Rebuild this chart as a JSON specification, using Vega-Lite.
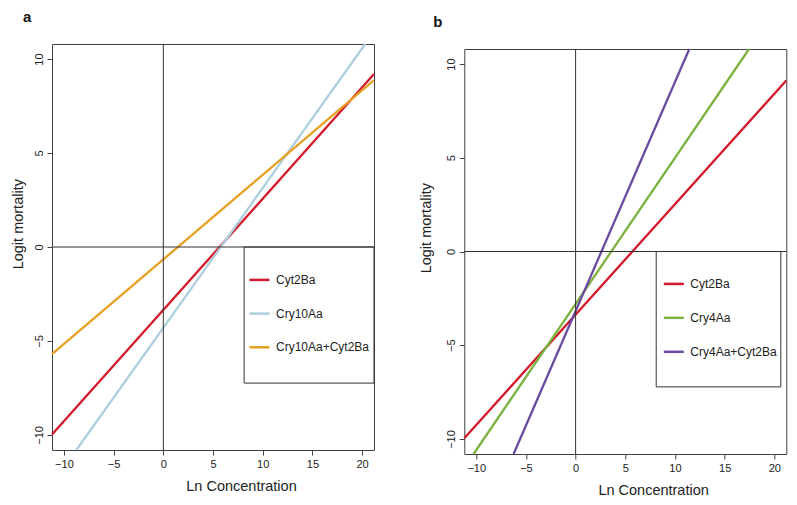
{
  "$schema": "https://vega.github.io/schema/vega-lite/v6.json",
  "background": "white",
  "padding": {"left": 10, "top": 10, "right": 0, "bottom": 0},
  "bounds": "flush",
  "spacing": 90.3,
  "datasets": {
    "a": [
      {"series": "Cyt2Ba", "x": -11.2, "y": -9.98},
      {"series": "Cyt2Ba", "x": 21.2, "y": 9.2},
      {"series": "Cry10Aa", "x": -8.75, "y": -10.8},
      {"series": "Cry10Aa", "x": 20.32, "y": 10.8},
      {"series": "Cry10Aa+Cyt2Ba", "x": -11.2, "y": -5.7},
      {"series": "Cry10Aa+Cyt2Ba", "x": 21.2, "y": 8.88}
    ],
    "b": [
      {"series": "Cyt2Ba", "x": -11.2, "y": -9.96},
      {"series": "Cyt2Ba", "x": 21.2, "y": 9.12},
      {"series": "Cry4Aa", "x": -10.27, "y": -10.8},
      {"series": "Cry4Aa", "x": 17.45, "y": 10.8},
      {"series": "Cry4Aa+Cyt2Ba", "x": -6.24, "y": -10.8},
      {"series": "Cry4Aa+Cyt2Ba", "x": 11.44, "y": 10.8}
    ]
  },
  "hconcat": [
    {
      "width": 322,
      "height": 406,
      "title": {"text": "a", "anchor": "start", "frame": "group", "dx": -29, "offset": 14},
      "resolve": {"axis": {"x": "independent", "y": "independent"}},
      "layer": [
        {
          "data": {"name": "a"},
          "mark": {"type": "line", "strokeWidth": 2.3},
          "encoding": {
            "x": {"field": "x", "type": "quantitative",
              "scale": {"domain": [-11.2, 21.2], "nice": false, "zero": false},
              "axis": {"orient": "bottom", "values": [-10, -5, 0, 5, 10, 15, 20], "title": "Ln Concentration", "titleX": 189, "titleY": 36.3, "titleBaseline": "middle", "labelPadding": 3}},
            "y": {"field": "y", "type": "quantitative",
              "scale": {"domain": [-10.8, 10.8], "nice": false, "zero": false},
              "axis": {"orient": "left", "values": [-10, -5, 0, 5, 10], "title": "Logit mortality", "titleX": -33.4, "titleY": 179.7, "titleBaseline": "middle", "titleAngle": -90, "labelAngle": -90, "labelAlign": "center", "labelBaseline": "bottom", "labelPadding": 2.5}},
            "color": {"field": "series", "type": "nominal",
              "scale": {"domain": ["Cyt2Ba", "Cry10Aa", "Cry10Aa+Cyt2Ba"], "range": ["#d21a2a", "#aecfde", "#e8a023"]},
              "legend": {"orient": "none", "legendX": 196, "legendY": 224.4, "title": null, "symbolType": "stroke", "symbolSize": 400, "symbolStrokeWidth": 2.5, "rowPadding": 15.7, "padding": 0, "labelOffset": 5, "labelFontSize": 12}}
          }
        },
        {
          "data": {"values": [{}]},
          "mark": {"type": "rule", "color": "#333", "strokeWidth": 1},
          "encoding": {
            "x": {"datum": 0, "type": "quantitative", "scale": {"domain": [-11.2, 21.2], "nice": false, "zero": false},
              "axis": {"orient": "top", "labels": false, "ticks": false, "title": null}},
            "y": {"datum": -10.8, "type": "quantitative", "scale": {"domain": [-10.8, 10.8], "nice": false, "zero": false}, "axis": null},
            "y2": {"datum": 10.8}
          }
        },
        {
          "data": {"values": [{}]},
          "mark": {"type": "rule", "color": "#333", "strokeWidth": 1},
          "encoding": {
            "y": {"datum": 0, "type": "quantitative", "scale": {"domain": [-10.8, 10.8], "nice": false, "zero": false},
              "axis": {"orient": "right", "labels": false, "ticks": false, "title": null}},
            "x": {"datum": -11.2, "type": "quantitative", "scale": {"domain": [-11.2, 21.2], "nice": false, "zero": false}, "axis": null},
            "x2": {"datum": 21.2}
          }
        },
        {
          "data": {"values": [{}]},
          "mark": {"type": "rect", "filled": false, "stroke": "#333", "strokeWidth": 1},
          "encoding": {
            "x": {"datum": 8.13, "type": "quantitative", "scale": {"domain": [-11.2, 21.2], "nice": false, "zero": false}, "axis": null},
            "x2": {"datum": 21.2},
            "y": {"datum": 0, "type": "quantitative", "scale": {"domain": [-10.8, 10.8], "nice": false, "zero": false}, "axis": null},
            "y2": {"datum": -7.24}
          }
        }
      ]
    },
    {
      "width": 322,
      "height": 410,
      "title": {"text": "b", "anchor": "start", "frame": "group", "dx": -31, "offset": 14},
      "resolve": {"axis": {"x": "independent", "y": "independent"}},
      "layer": [
        {
          "data": {"name": "b"},
          "mark": {"type": "line", "strokeWidth": 2.3},
          "encoding": {
            "x": {"field": "x", "type": "quantitative",
              "scale": {"domain": [-11.2, 21.2], "nice": false, "zero": false},
              "axis": {"orient": "bottom", "values": [-10, -5, 0, 5, 10, 15, 20], "title": "Ln Concentration", "titleX": 188.8, "titleY": 36.7, "titleBaseline": "middle", "labelPadding": 3}},
            "y": {"field": "y", "type": "quantitative",
              "scale": {"domain": [-10.8, 10.8], "nice": false, "zero": false, "range": [410, 5]},
              "axis": {"orient": "left", "values": [-10, -5, 0, 5, 10], "title": "Logit mortality", "titleX": -37.5, "titleY": 183.7, "titleBaseline": "middle", "titleAngle": -90, "labelAngle": -90, "labelAlign": "center", "labelBaseline": "bottom", "labelPadding": 2.5}},
            "color": {"field": "series", "type": "nominal",
              "scale": {"domain": ["Cyt2Ba", "Cry4Aa", "Cry4Aa+Cyt2Ba"], "range": ["#d21a2a", "#7bb241", "#6b4ba0"]},
              "legend": {"orient": "none", "legendX": 198, "legendY": 228.4, "title": null, "symbolType": "stroke", "symbolSize": 400, "symbolStrokeWidth": 2.5, "rowPadding": 15.95, "padding": 0, "labelOffset": 5, "labelFontSize": 12}}
          }
        },
        {
          "data": {"values": [{}]},
          "mark": {"type": "rule", "color": "#333", "strokeWidth": 1},
          "encoding": {
            "x": {"datum": 0, "type": "quantitative", "scale": {"domain": [-11.2, 21.2], "nice": false, "zero": false},
              "axis": {"orient": "top", "labels": false, "ticks": false, "title": null, "offset": -5}},
            "y": {"datum": -10.8, "type": "quantitative", "scale": {"domain": [-10.8, 10.8], "nice": false, "zero": false, "range": [410, 5]}, "axis": null},
            "y2": {"datum": 10.8}
          }
        },
        {
          "data": {"values": [{}]},
          "mark": {"type": "rule", "color": "#333", "strokeWidth": 1},
          "encoding": {
            "y": {"datum": 0, "type": "quantitative", "scale": {"domain": [-10.8, 10.8], "nice": false, "zero": false, "range": [410, 5]},
              "axis": {"orient": "right", "labels": false, "ticks": false, "title": null}},
            "x": {"datum": -11.2, "type": "quantitative", "scale": {"domain": [-11.2, 21.2], "nice": false, "zero": false}, "axis": null},
            "x2": {"datum": 21.2}
          }
        },
        {
          "data": {"values": [{}]},
          "mark": {"type": "rect", "filled": false, "stroke": "#333", "strokeWidth": 1},
          "encoding": {
            "x": {"datum": 8.11, "type": "quantitative", "scale": {"domain": [-11.2, 21.2], "nice": false, "zero": false}, "axis": null},
            "x2": {"datum": 20.65},
            "y": {"datum": 0, "type": "quantitative", "scale": {"domain": [-10.8, 10.8], "nice": false, "zero": false, "range": [410, 5]}, "axis": null},
            "y2": {"datum": -7.22}
          }
        }
      ]
    }
  ],
  "resolve": {"scale": {"color": "independent"}, "legend": {"color": "independent"}},
  "config": {
    "view": {"stroke": null},
    "font": "Liberation Sans",
    "axis": {
      "grid": false,
      "domainColor": "#404040",
      "tickColor": "#404040",
      "domainWidth": 1,
      "tickWidth": 1,
      "tickSize": 5,
      "labelColor": "#222",
      "titleColor": "#222",
      "labelFont": "Liberation Sans",
      "titleFont": "Liberation Sans",
      "labelFontSize": 11,
      "titleFontSize": 14.5,
      "titleFontWeight": "normal"
    },
    "legend": {"labelFont": "Liberation Sans", "labelColor": "#222"},
    "title": {"font": "Liberation Sans", "fontSize": 15, "fontWeight": "bold", "color": "#111"}
  }
}
